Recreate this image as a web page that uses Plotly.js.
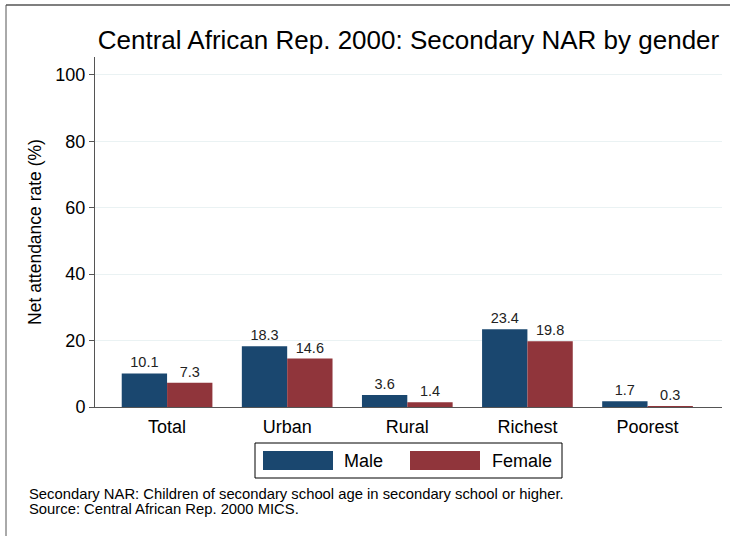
<!DOCTYPE html>
<html>
<head>
<meta charset="utf-8">
<script src="https://cdn.plot.ly/plotly-3.0.1.min.js"></script>
<style>
  html, body { margin: 0; padding: 0; background: #fff; }
  #chart { width: 730px; height: 536px; }
</style>
</head>
<body>
<div id="chart"></div>
<script>
// ---- data ----
const categories = ["Total", "Urban", "Rural", "Richest", "Poorest"];
const maleValues = [10.1, 18.3, 3.6, 23.4, 1.7];
const femaleValues = [7.3, 14.6, 1.4, 19.8, 0.3];
const seriesNames = ["Male", "Female"];
const yTicks = [0, 20, 40, 60, 80, 100];
const titleText = "Central African Rep. 2000: Secondary NAR by gender";
const yTitleText = "Net attendance rate (%)";
const noteLines = [
  "Secondary NAR: Children of secondary school age in secondary school or higher.",
  "Source: Central African Rep. 2000 MICS."
];

// ---- styling ----
const FONT = "Liberation Sans, Arial, sans-serif";
const colors = ["#1a476f", "#90353b"];
const W = 730, H = 536;
const L = 95, R = 8, T = 57, B = 129;
const plotW = W - L - R, plotH = H - T - B;
const px = x => (x - L) / plotW;
const py = y => (H - B - y) / plotH;

const traces = [maleValues, femaleValues].map((vals, i) => ({
  type: "bar",
  name: seriesNames[i],
  x: categories,
  y: vals,
  marker: { color: colors[i], line: { width: 0 } },
  text: vals.map(v => v.toFixed(1)),
  textposition: "outside",
  textfont: { family: FONT, size: 14.5, color: "#222" },
  cliponaxis: false,
  hoverinfo: "x+y+name"
}));

// manual legend (Stata style)
const legBox = { x0: 255, x1: 562, y0: 443, y1: 478 };
const swatches = [
  { x0: 263, x1: 333, label: 342 },
  { x0: 410, x1: 480, label: 490 }
];

const shapes = [
  // outer frame (top + left)
  { type: "line", xref: "paper", yref: "paper", x0: px(6), x1: px(730), y0: py(5), y1: py(5),
    line: { color: "#000", width: 1.2 } },
  { type: "line", xref: "paper", yref: "paper", x0: px(6), x1: px(6), y0: py(5), y1: py(536),
    line: { color: "#555", width: 1 } },
  // legend box
  { type: "rect", xref: "paper", yref: "paper",
    x0: px(legBox.x0), x1: px(legBox.x1), y0: py(legBox.y0), y1: py(legBox.y1),
    line: { color: "#000", width: 1 }, fillcolor: "#fff" }
];
const annotations = [];
swatches.forEach((s, i) => {
  shapes.push({ type: "rect", xref: "paper", yref: "paper",
    x0: px(s.x0), x1: px(s.x1), y0: py(451), y1: py(470),
    line: { color: colors[i], width: 0 }, fillcolor: colors[i] });
  annotations.push({ xref: "paper", yref: "paper", x: px(s.label), y: py(461),
    xanchor: "left", yanchor: "middle", showarrow: false, text: seriesNames[i],
    font: { family: FONT, size: 18, color: "#000" } });
});
const noteY = [494, 509];
noteLines.forEach((line, i) => {
  annotations.push({ xref: "paper", yref: "paper", x: px(27), y: py(noteY[i]),
    xanchor: "left", yanchor: "middle", align: "left", showarrow: false,
    text: line,
    font: { family: FONT, size: 14.8, color: "#000" } });
});

const layout = {
  width: W, height: H,
  margin: { l: L, r: R, t: T, b: B, pad: 0 },
  paper_bgcolor: "#fff",
  plot_bgcolor: "#fff",
  showlegend: false,
  barmode: "group",
  bargap: 0.245,
  bargroupgap: 0,
  font: { family: FONT, color: "#000" },
  title: {
    text: titleText,
    font: { family: FONT, size: 26, color: "#000" },
    x: 0.5, xref: "paper", xanchor: "center",
    y: 1 - 40 / H, yref: "container", yanchor: "middle"
  },
  xaxis: {
    type: "category",
    range: [-0.6, 4.62],
    showline: true, linecolor: "#555", linewidth: 1,
    ticks: "", showgrid: false, zeroline: false,
    tickfont: { family: FONT, size: 18, color: "#000" },
    ticklabelstandoff: 3
  },
  yaxis: {
    range: [0, 105.4],
    tickvals: yTicks,
    ticks: "outside", ticklen: 5, tickcolor: "#555", tickwidth: 1,
    showline: true, linecolor: "#555", linewidth: 1,
    showgrid: true, gridcolor: "#eaf2f3", gridwidth: 1,
    zeroline: false,
    tickfont: { family: FONT, size: 18, color: "#000" },
    title: { text: yTitleText, font: { family: FONT, size: 17.5, color: "#000" }, standoff: 9 }
  },
  shapes: shapes,
  annotations: annotations
};

Plotly.newPlot("chart", traces, layout, { displayModeBar: false, staticPlot: true });
</script>
</body>
</html>
